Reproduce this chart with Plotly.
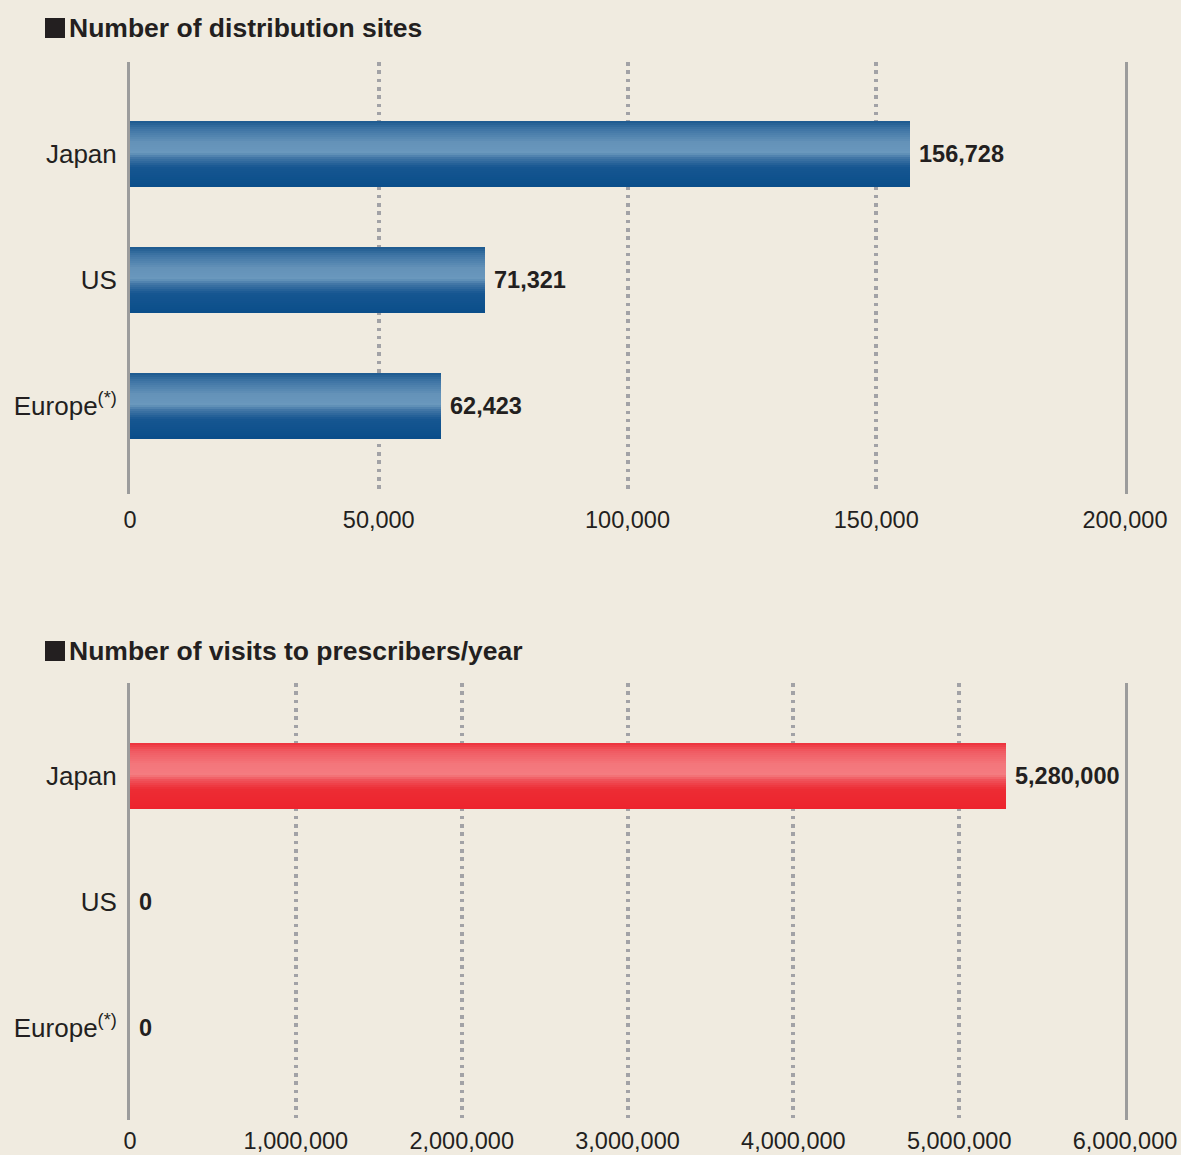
import plotly.graph_objects as go
from plotly.subplots import make_subplots

# ---- data ----
categories = ["Japan", "US", "Europe<sup>(*)</sup>"]
sites = [156728, 71321, 62423]
visits = [5280000, 0, 0]
sites_ticks = [0, 50000, 100000, 150000, 200000]
visits_ticks = [0, 1000000, 2000000, 3000000, 4000000, 5000000, 6000000]
title_sites = "Number of distribution sites"
title_visits = "Number of visits to prescribers/year"

BG = "#F0EBE0"
TXT = "#231F20"
GRID = "#A2A2A6"
AXLINE = "#9C9C9C"
FONT = "Liberation Sans, Arial, Helvetica, sans-serif"

blue_stops = [(0.0, (28, 88, 142)), (0.12, (62, 116, 164)), (0.32, (100, 146, 184)),
              (0.48, (106, 152, 189)), (0.56, (66, 118, 166)), (0.70, (22, 86, 145)),
              (1.0, (10, 78, 138))]
red_stops = [(0.0, (236, 48, 58)), (0.12, (240, 90, 98)), (0.32, (243, 118, 123)),
             (0.48, (244, 124, 128)), (0.56, (240, 82, 90)), (0.70, (237, 44, 52)),
             (1.0, (237, 36, 45))]


def grad(stops, t):
    for (t0, c0), (t1, c1) in zip(stops[:-1], stops[1:]):
        if t0 <= t <= t1:
            f = (t - t0) / (t1 - t0) if t1 > t0 else 0
            c = [round(a + (b - a) * f) for a, b in zip(c0, c1)]
            return "rgb(%d,%d,%d)" % tuple(c)
    return "rgb(%d,%d,%d)" % stops[-1][1]


fig = make_subplots(rows=2, cols=1)

BAR_H = 0.524
N = 33
idx = list(range(len(categories)))
xrefs = {1: ("x", "y"), 2: ("x2", "y2")}


def add_bars(values, stops, row):
    w = BAR_H / N
    for i in range(N):
        t = (i + 0.5) / N
        off = -BAR_H / 2 + i * w
        width = w * 1.6 if i < N - 1 else w
        fig.add_trace(go.Bar(
            x=values, y=idx, orientation="h",
            offset=off, width=width,
            marker=dict(color=grad(stops, t), line=dict(width=0)),
            hoverinfo="skip", showlegend=False), row=row, col=1)
    xr, yr = xrefs[row]
    for v, j in zip(values, idx):
        fig.add_annotation(x=v, y=j, xref=xr, yref=yr, text=f"<b>{v:,}</b>",
                           showarrow=False, xanchor="left", yanchor="middle",
                           xshift=7, font=dict(family=FONT, size=23.5, color=TXT))


add_bars(sites, blue_stops, 1)
add_bars(visits, red_stops, 2)

fig.update_layout(
    width=1181, height=1155, autosize=False,
    paper_bgcolor=BG, plot_bgcolor=BG,
    margin=dict(l=0, r=0, t=0, b=0, pad=0),
    barmode="overlay", bargap=0, showlegend=False,
    font=dict(family=FONT, color=TXT),
)

xdom = [130 / 1181, 1125 / 1181]
fig.update_xaxes(domain=xdom, showgrid=True, gridcolor=GRID, gridwidth=3.6,
                 griddash="3.6px,4.7px", zeroline=False, showline=False, automargin=False,
                 ticks="", tickfont=dict(family=FONT, size=23.5, color=TXT),
                 tickformat=",", fixedrange=True)
fig.update_xaxes(range=[0, 200000], tickvals=sites_ticks, ticklabelstandoff=9, row=1, col=1)
fig.update_xaxes(range=[0, 6000000], tickvals=visits_ticks, ticklabelstandoff=4, row=2, col=1)

fig.update_yaxes(tickvals=idx, ticktext=categories, showgrid=False, zeroline=False,
                 showline=True, mirror=True, linecolor=AXLINE, linewidth=3, automargin=False,
                 ticks="", ticklabelstandoff=5,
                 tickfont=dict(family=FONT, size=26, color=TXT), fixedrange=True)
fig.update_yaxes(domain=[1 - 494 / 1155, 1 - 62 / 1155], range=[2.70, -0.73], row=1, col=1)
fig.update_yaxes(domain=[1 - 1120 / 1155, 1 - 683 / 1155], range=[2.73, -0.74], row=2, col=1)

for text, ypx in [(title_sites, 28), (title_visits, 651)]:
    fig.add_shape(type="rect", xref="paper", yref="paper",
                  x0=45 / 1181, x1=65 / 1181, y0=1 - (ypx + 10) / 1155, y1=1 - (ypx - 10) / 1155,
                  fillcolor=TXT, line=dict(width=0))
    fig.add_annotation(xref="paper", yref="paper", x=67 / 1181, y=1 - ypx / 1155,
                       xanchor="left", yanchor="middle", showarrow=False,
                       text="<b>" + text + "</b>",
                       font=dict(family=FONT, size=26.5, color=TXT))

fig.write_html("out.html", config={"responsive": False, "displayModeBar": False},
               post_script="document.body.style.margin='0';document.body.style.overflow='hidden';")
